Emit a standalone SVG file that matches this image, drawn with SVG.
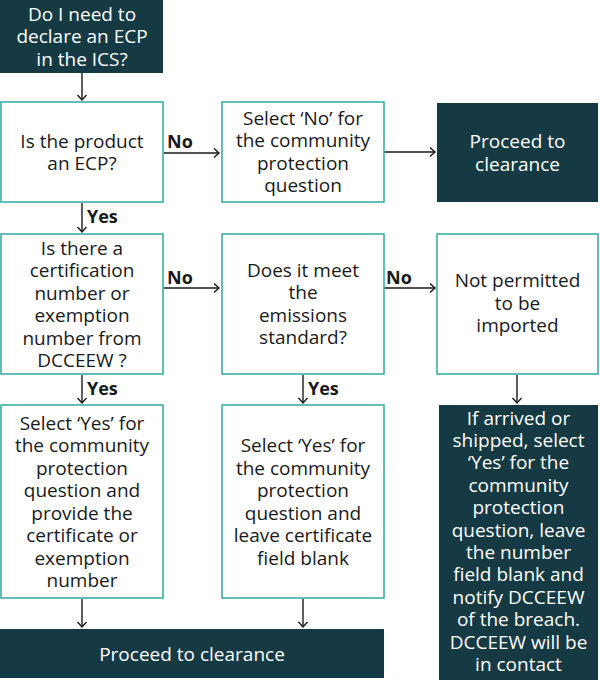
<svg xmlns="http://www.w3.org/2000/svg" width="600" height="680" viewBox="0 0 600 680">
<defs>
<marker id="ah" markerUnits="userSpaceOnUse" markerWidth="12" markerHeight="12" refX="6" refY="5" orient="auto">
<path d="M1,0.5 L6,5 L1,9.5" fill="none" stroke="#1a1a1a" stroke-width="1.4"/>
</marker>
<style>
.w{fill:#fff;stroke:#3aafa0;stroke-width:1.6}
.d{fill:#163a43}
.t{font-family:"Open Sans","Noto Sans","Liberation Sans",sans-serif;font-size:19px;text-anchor:middle;fill:#1a1a1a}
.tw{font-family:"Open Sans","Noto Sans","Liberation Sans",sans-serif;font-size:19px;text-anchor:middle;fill:#fff}
.l{font-family:"Open Sans","Noto Sans","Liberation Sans",sans-serif;font-size:18px;font-weight:bold;fill:#1a1a1a}
.c{fill:none;stroke:#1a1a1a;stroke-width:1.4;marker-end:url(#ah)}
</style>
</defs>
<rect width="600" height="680" fill="#fff"/>
<g id="connectors">
<line class="c" x1="82" y1="73" x2="82" y2="100"/>
<line class="c" x1="164" y1="153" x2="219" y2="153"/>
<line class="c" x1="384" y1="152" x2="435" y2="152"/>
<line class="c" x1="82" y1="203" x2="82" y2="232"/>
<line class="c" x1="164" y1="288" x2="219" y2="288"/>
<line class="c" x1="384" y1="288" x2="435" y2="288"/>
<line class="c" x1="82" y1="375" x2="82" y2="403"/>
<line class="c" x1="303" y1="375" x2="303" y2="403"/>
<line class="c" x1="517" y1="375" x2="517" y2="403"/>
<line class="c" x1="82" y1="599" x2="82" y2="627"/>
<line class="c" x1="303" y1="599" x2="303" y2="627"/>
<text class="l" x="167" y="148">No</text>
<text class="l" x="167" y="284">No</text>
<text class="l" x="386" y="284">No</text>
<text class="l" x="87" y="223">Yes</text>
<text class="l" x="87" y="395">Yes</text>
<text class="l" x="308" y="395">Yes</text>
</g>
<g id="start">
<rect class="d" x="0" y="0" width="163" height="73"/>
<text class="tw" x="82" y="20.5">Do I need to</text>
<text class="tw" x="82" y="43">declare an ECP</text>
<text class="tw" x="82" y="65.5">in the ICS?</text>
</g>
<g id="is-ecp">
<rect class="w" x="1" y="102" width="162" height="100"/>
<text class="t" x="82" y="147.5">Is the product</text>
<text class="t" x="82" y="170">an ECP?</text>
</g>
<g id="select-no">
<rect class="w" x="222" y="102" width="162" height="100"/>
<text class="t" x="303" y="124.5">Select ‘No’ for</text>
<text class="t" x="303" y="147">the community</text>
<text class="t" x="303" y="169.5">protection</text>
<text class="t" x="303" y="192">question</text>
</g>
<g id="proceed-1">
<rect class="d" x="437" y="103" width="161" height="99"/>
<text class="tw" x="517.5" y="148">Proceed to</text>
<text class="tw" x="517.5" y="170.5">clearance</text>
</g>
<g id="cert-number">
<rect class="w" x="1" y="234" width="162" height="140"/>
<text class="t" x="82" y="254.5">Is there a</text>
<text class="t" x="82" y="277">certification</text>
<text class="t" x="82" y="299.5">number or</text>
<text class="t" x="82" y="322">exemption</text>
<text class="t" x="82" y="344.5">number from</text>
<text class="t" x="82" y="367">DCCEEW ?</text>
</g>
<g id="emissions">
<rect class="w" x="222" y="234" width="162" height="140"/>
<text class="t" x="303" y="276.5">Does it meet</text>
<text class="t" x="303" y="299">the</text>
<text class="t" x="303" y="321.5">emissions</text>
<text class="t" x="303" y="344">standard?</text>
</g>
<g id="not-permitted">
<rect class="w" x="437" y="234" width="161" height="140"/>
<text class="t" x="517.5" y="287">Not permitted</text>
<text class="t" x="517.5" y="309.5">to be</text>
<text class="t" x="517.5" y="332">imported</text>
</g>
<g id="select-yes-cert">
<rect class="w" x="1" y="405" width="162" height="193"/>
<text class="t" x="82" y="429.5">Select ‘Yes’ for</text>
<text class="t" x="82" y="452">the community</text>
<text class="t" x="82" y="474.5">protection</text>
<text class="t" x="82" y="497">question and</text>
<text class="t" x="82" y="519.5">provide the</text>
<text class="t" x="82" y="542">certificate or</text>
<text class="t" x="82" y="564.5">exemption</text>
<text class="t" x="82" y="587">number</text>
</g>
<g id="select-yes-blank">
<rect class="w" x="222" y="405" width="162" height="193"/>
<text class="t" x="303" y="452">Select ‘Yes’ for</text>
<text class="t" x="303" y="474.5">the community</text>
<text class="t" x="303" y="497">protection</text>
<text class="t" x="303" y="519.5">question and</text>
<text class="t" x="303" y="542">leave certificate</text>
<text class="t" x="303" y="564.5">field blank</text>
</g>
<g id="breach">
<rect class="d" x="439" y="405" width="159" height="275"/>
<text class="tw" x="518.5" y="424.5">If arrived or</text>
<text class="tw" x="518.5" y="446.9">shipped, select</text>
<text class="tw" x="518.5" y="469.3">‘Yes’ for the</text>
<text class="tw" x="518.5" y="491.7">community</text>
<text class="tw" x="518.5" y="514.1">protection</text>
<text class="tw" x="518.5" y="536.5">question, leave</text>
<text class="tw" x="518.5" y="558.9">the number</text>
<text class="tw" x="518.5" y="581.3">field blank and</text>
<text class="tw" x="518.5" y="603.7">notify DCCEEW</text>
<text class="tw" x="518.5" y="626.1">of the breach.</text>
<text class="tw" x="518.5" y="648.5">DCCEEW will be</text>
<text class="tw" x="518.5" y="670.9">in contact</text>
</g>
<g id="proceed-2">
<rect class="d" x="0" y="629" width="384" height="49"/>
<text class="tw" x="192" y="660.5">Proceed to clearance</text>
</g>
</svg>
